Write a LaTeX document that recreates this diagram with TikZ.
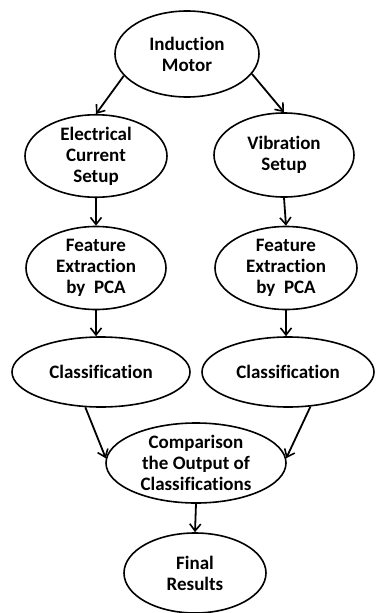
\documentclass[tikz,border=0pt]{standalone}
\usepackage{fontspec}
\setmainfont[Ligatures=CommonOff]{Carlito}
\usetikzlibrary{shapes.geometric,arrows.meta}
\tikzset{
  oval/.style={ellipse, draw=black, line width=1.6pt, inner sep=0pt, align=center,
    font=\bfseries\fontsize{19}{21}\selectfont},
  arr/.style={line width=1.8pt, -{Straight Barb[length=7pt,width=11pt,line width=1.6pt]}}
}
\begin{document}
\begin{tikzpicture}[x=1pt,y=-1pt]
\useasboundingbox (0,0) rectangle (375,613);
\node[oval, minimum width=144pt, minimum height=86pt] (im) at (187,54) {Induction\\Motor};
\node[oval, minimum width=142pt, minimum height=82pt] (ec) at (96,156) {Electrical\\Current\\Setup};
\node[oval, minimum width=140pt, minimum height=84pt] (vs) at (284,155) {Vibration\\Setup};
\node[oval, minimum width=140pt, minimum height=83pt] (fe1) at (96,268) {Feature\\Extraction\\by\ \ PCA};
\node[oval, minimum width=142pt, minimum height=83pt] (fe2) at (286,268) {Feature\\Extraction\\by\ \ PCA};
\node[oval, minimum width=178pt, minimum height=70pt] (cl1) at (101,372) {Classification};
\node[oval, minimum width=172pt, minimum height=70pt] (cl2) at (288,372) {Classification};
\node[oval, minimum width=180pt, minimum height=80pt] (cmp) at (196,463) {Comparison\\the Output of\\Classifications};
\node[oval, minimum width=142pt, minimum height=80pt] (fr) at (195,573) {Final\\Results};
\draw[arr] (im.199) -- (ec.north);
\draw[arr] (im.343) -- (vs.north);
\draw[arr] (ec.south) -- (fe1.north);
\draw[arr] (vs.south) -- (fe2.north);
\draw[arr] (fe1.south) -- (fe1.south |- cl1.north);
\draw[arr] (fe2.south) -- (fe2.south |- cl2.north);
\draw[arr] (cl1.246) -- (cmp.177);
\draw[arr] (cl2.303) -- (cmp.3);
\draw[arr] (cmp.south) -- (fr.north);
\end{tikzpicture}
\end{document}
